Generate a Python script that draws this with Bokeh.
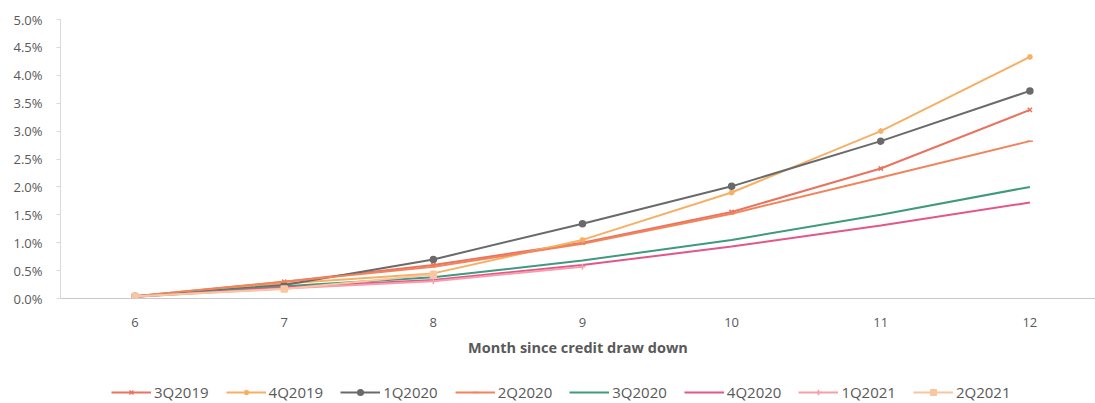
from bokeh.plotting import figure
from bokeh.layouts import column
from bokeh.models import (Range1d, PrintfTickFormatter, FixedTicker, Legend, LegendItem)
from bokeh.embed import file_html
from bokeh.resources import INLINE

# Cumulative default rate (%) by months since credit draw down, per vintage
months = [6, 7, 8, 9, 10, 11, 12]
v_3q2019 = [0.04, 0.30, 0.60, 1.00, 1.55, 2.33, 3.38]
v_4q2019 = [0.04, 0.27, 0.45, 1.05, 1.90, 3.00, 4.33]
v_1q2020 = [0.04, 0.24, 0.70, 1.34, 2.01, 2.82, 3.72]
v_2q2020 = [0.04, 0.30, 0.57, 0.98, 1.52, 2.17, 2.82]
v_3q2020 = [0.03, 0.22, 0.38, 0.68, 1.05, 1.50, 2.00]
v_4q2020 = [0.03, 0.20, 0.33, 0.60, 0.93, 1.31, 1.72]
v_1q2021 = [0.03, 0.18, 0.31, 0.57]
v_2q2021 = [0.04, 0.17, 0.43]

series = [
    ("3Q2019", v_3q2019, "#E9735F", "x"),
    ("4Q2019", v_4q2019, "#F6B066", "asterisk"),
    ("1Q2020", v_1q2020, "#6A6A6A", "circle"),
    ("2Q2020", v_2q2020, "#F2845C", "dash"),
    ("3Q2020", v_3q2020, "#3E9A7C", None),
    ("4Q2020", v_4q2020, "#E2568A", None),
    ("1Q2021", v_1q2021, "#F3A0AC", "cross"),
    ("2Q2021", v_2q2021, "#F8C6A0", "square"),
]

FONT = "Open Sans"
TXT = "#595959"
AXIS = "#D9D9D9"


def draw_series(fig):
    """Draw every vintage on fig; return the legend renderers per series."""
    out = []
    for name, vals, color, marker in series:
        xs = months[:len(vals)]
        rs = [fig.line(xs, vals, line_color=color, line_width=2)]
        if marker is not None:
            rs.append(fig.scatter(xs, vals, marker=marker, size=6,
                                  line_color=color, fill_color=color,
                                  line_width=1.5))
        out.append((name, rs))
    return out


# main chart
p = figure(width=1095, height=360, output_backend="svg", toolbar_location=None,
           x_range=Range1d(5.5, 12.44), y_range=Range1d(0, 5.0),
           min_border_left=60, min_border_right=0, min_border_top=19,
           min_border_bottom=62)
p.outline_line_color = None
p.grid.grid_line_color = None
draw_series(p)

ya = p.yaxis[0]
ya.ticker = FixedTicker(ticks=[i * 0.5 for i in range(11)])
ya.formatter = PrintfTickFormatter(format="%.1f%%")
ya.axis_line_color = AXIS
ya.major_tick_line_color = AXIS
ya.major_tick_out = 4
ya.major_tick_in = 0
ya.minor_tick_line_color = None
ya.major_label_text_font = FONT
ya.major_label_text_font_size = "13px"
ya.major_label_text_color = TXT
ya.major_label_standoff = 14

xa = p.xaxis[0]
xa.ticker = FixedTicker(ticks=months)
xa.axis_line_color = "#C8C8C8"
xa.major_tick_line_color = None
xa.minor_tick_line_color = None
xa.major_label_text_font = FONT
xa.major_label_text_font_size = "13px"
xa.major_label_text_color = TXT
xa.major_label_standoff = 13
xa.axis_label = "Month since credit draw down"
xa.axis_label_text_font = FONT
xa.axis_label_text_font_size = "14.5px"
xa.axis_label_text_font_style = "bold"
xa.axis_label_text_color = TXT
xa.axis_label_standoff = 8

# legend strip: same series drawn off-range so only the legend shows
lg = figure(width=1095, height=43, output_backend="svg", toolbar_location=None,
            x_range=Range1d(100, 101), y_range=Range1d(100, 101),
            x_axis_type=None, y_axis_type=None,
            min_border_left=0, min_border_right=0, min_border_top=0,
            min_border_bottom=0)
lg.outline_line_color = None
lg.grid.grid_line_color = None
legend_items = [LegendItem(label=n, renderers=rs) for n, rs in draw_series(lg)]
legend = Legend(items=legend_items, orientation="horizontal", location=(51, 1),
                label_text_font=FONT, label_text_font_size="15px",
                label_text_color=TXT, glyph_width=40, glyph_height=14,
                spacing=17, label_standoff=3, border_line_color=None,
                background_fill_alpha=0, margin=0, padding=4)
lg.add_layout(legend, "center")

layout = column(p, lg, spacing=0)
open("out.html", "w").write(file_html(layout, INLINE))
